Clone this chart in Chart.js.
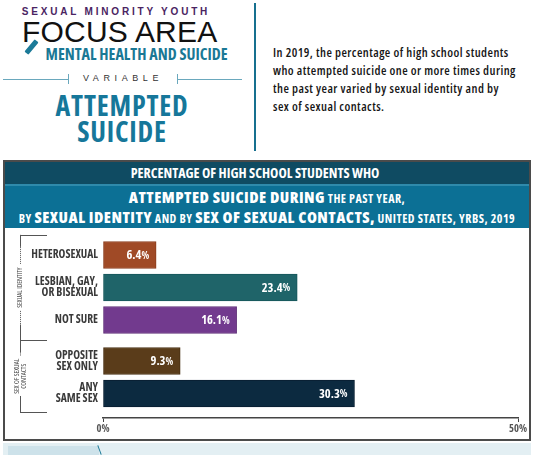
<!DOCTYPE html>
<html>
<head>
<meta charset="utf-8">
<script src="https://cdn.jsdelivr.net/npm/chart.js@4.4.0/dist/chart.umd.min.js"></script>
<style>
    body { margin: 0; width: 536px; height: 455px; position: relative; overflow: hidden; background: #fff;
           font-family: "Open Sans", sans-serif; font-stretch: 75%; }
    .abs { position: absolute; white-space: nowrap; }
    #kicker { left: 0; width: 232px; top: 7px; text-align: center; font: bold 10px/1 "Liberation Sans", Arial, sans-serif;
              letter-spacing: 2.8px; color: #4a2462; }
    #focus { left: 22px; top: 17px; font: 30px/1 "Liberation Sans", Arial, sans-serif; color: #111; letter-spacing: 0.2px; }
    #handle { left: 29px; top: 39px; width: 5px; height: 16px; background: #1b7a98; transform: rotate(40deg); border-radius: 1px; }
    #mh { left: 0; width: 273px; top: 46px; text-align: center; font-weight: bold; font-size: 16px; line-height: 1.1; color: #1a7895; }
    .vline { height: 1px; background: #6aa8bd; top: 79px; }
    #variable { left: 68px; width: 108px; top: 74px; font: 9px/1 "Liberation Sans", Arial, sans-serif; letter-spacing: 4.6px;
                color: #333; text-align: center; border-left: 1px solid #6aa8bd; border-right: 1px solid #6aa8bd; height: 10px; }
    #title { left: 0; width: 244px; top: 92px; text-align: center; font-weight: bold; font-size: 28px; letter-spacing: 0.8px;
             line-height: 26px; color: #16779a; }
    #sep { left: 254px; top: 3px; width: 2px; height: 148px; background: #16708f; }
    #intro { left: 273px; top: 44px; font-size: 12.5px; letter-spacing: 0.45px; font-weight: 600; line-height: 18px; color: #161616; }
    #box { left: 3px; top: 160px; width: 528px; height: 281px; border: 2px solid #4b4b4b; box-sizing: border-box; }
    #band1 { left: 5px; top: 162px; width: 500px; padding-right: 24px; height: 22px; background: #0f4b62; color: #fff; text-align: center;
             font-weight: bold; font-size: 14px; line-height: 22px; }
    #band2 { left: 5px; top: 184px; width: 524px; height: 44px; background: #0c7095; border-top: 2px solid #2f8aab;
             box-sizing: border-box; color: #fff; text-align: center; font-weight: bold; font-size: 12px; letter-spacing: 0.5px;
             line-height: 19px; padding-top: 2px; }
    #band2 b { font-size: 16px; }
    #strip { left: 3px; top: 443px; width: 528px; height: 12px; background: #e3eff3; }
    #strip2 { left: 8px; top: 446px; width: 91px; height: 9px; background: #cde2ea; }
    #diag { left: 99px; top: 445px; width: 1px; height: 10px; background: #1b7a98; transform: rotate(-20deg); }
    #chartWrap { left: 0; top: 228px; width: 536px; height: 212px; }
</style>
</head>
<body>
<div class="abs" id="kicker">SEXUAL MINORITY YOUTH</div>
<div class="abs" id="focus">FOCUS AREA</div>
<div class="abs" id="handle"></div>
<div class="abs" id="mh">MENTAL HEALTH AND SUICIDE</div>
<div class="abs vline" style="left:3px;width:65px"></div>
<div class="abs" id="variable">VARIABLE</div>
<div class="abs vline" style="left:177px;width:65px"></div>
<div class="abs" id="title">ATTEMPTED<br>SUICIDE</div>
<div class="abs" id="sep"></div>
<div class="abs" id="intro">In 2019, the percentage of high school students<br>who attempted suicide one or more times during<br>the past year varied by sexual identity and by<br>sex of sexual contacts.</div>

<div class="abs" id="box"></div>
<div class="abs" id="band1">PERCENTAGE OF HIGH SCHOOL STUDENTS WHO</div>
<div class="abs" id="band2"><b>ATTEMPTED SUICIDE DURING</b> THE PAST YEAR,<br>BY <b>SEXUAL IDENTITY</b> AND BY <b>SEX OF SEXUAL CONTACTS,</b> UNITED STATES, YRBS, 2019</div>
<div class="abs" id="strip"></div>
<div class="abs" id="strip2"></div>
<div class="abs" id="diag"></div>

<div class="abs" id="chartWrap"><canvas id="attemptChart"></canvas></div>

<script>
    // Data
    const categories = [['HETEROSEXUAL'], ['LESBIAN, GAY,', 'OR BISEXUAL'], ['NOT SURE'], ['OPPOSITE', 'SEX ONLY'], ['ANY', 'SAME SEX']];
    const percentages = [6.4, 23.4, 16.1, 9.3, 30.3];
    const groupOf = [0, 0, 0, 1, 1];
    const groupNames = [['SEXUAL IDENTITY'], ['SEX OF SEXUAL', 'CONTACTS']];
    const xTickValues = [0, 50];

    const barColors = ['#a04a26', '#1f6469', '#723a8e', '#5a3c1a', '#0c2a40'];
    const barBorders = ['#8a3d1d', '#17575b', '#5f2e78', '#4a3114', '#081e30'];
    const FAMILY = '"Open Sans", sans-serif';

    // row position: index plus an extra gap between the two groups
    const GROUP_GAP = 0.26;
    const rowPos = categories.map((c, i) => i + groupOf[i] * GROUP_GAP);

    const valueLabels = {
        id: 'valueLabels',
        afterDatasetsDraw(chart) {
            const ctx = chart.ctx;
            const meta = chart.getDatasetMeta(0);
            ctx.save();
            ctx.fillStyle = '#fff';
            ctx.textBaseline = 'middle';
            ctx.textAlign = 'right';
            meta.data.forEach((bar, i) => {
                const num = percentages[i].toFixed(1);
                ctx.font = 'bold condensed 10px ' + FAMILY;
                const pw = ctx.measureText('%').width;
                ctx.fillText('%', bar.x - 7, bar.y + 1);
                ctx.font = 'bold condensed 12.5px ' + FAMILY;
                ctx.fillText(num, bar.x - 7 - pw, bar.y + 0.5);
            });
            ctx.restore();
        }
    };

    const groupBrackets = {
        id: 'groupBrackets',
        afterDraw(chart) {
            const ctx = chart.ctx;
            const ys = chart.scales.y;
            const first = rowPos.slice(0, 3), second = rowPos.slice(3);
            const edges = [
                ys.getPixelForValue(first[0] - 0.62),
                ys.getPixelForValue((first[2] + second[0]) / 2),
                ys.getPixelForValue(second[1] + 0.57)
            ];
            const xl = 20, xr = 47;
            ctx.save();
            ctx.strokeStyle = '#555';
            ctx.lineWidth = 1;
            edges.forEach(y => {
                ctx.beginPath();
                ctx.moveTo(xl, Math.round(y) + 0.5);
                ctx.lineTo(xr, Math.round(y) + 0.5);
                ctx.stroke();
            });
            ctx.font = 'condensed 7px ' + FAMILY;
            ctx.fillStyle = '#444';
            ctx.textAlign = 'center';
            ctx.textBaseline = 'middle';
            groupNames.forEach((lines, g) => {
                const a = edges[g], b = edges[g + 1];
                const c = (a + b) / 2;
                const w = Math.max(...lines.map(l => ctx.measureText(l).width));
                const h = w / 2 + 3;
                const seg = (y1, y2, dash) => {
                    ctx.setLineDash(dash);
                    ctx.beginPath();
                    ctx.moveTo(xl + 0.5, y1);
                    ctx.lineTo(xl + 0.5, y2);
                    ctx.stroke();
                };
                seg(a, a + 12, []);
                seg(a + 12, c - h, [1, 1]);
                seg(c + h, b - 16, [1, 1]);
                seg(b - 16, b, []);
                ctx.setLineDash([]);
                ctx.save();
                ctx.translate(xl, c);
                ctx.rotate(-Math.PI / 2);
                const off = (lines.length - 1) * 3.5;
                lines.forEach((l, k) => ctx.fillText(l, 0, k * 7 - off));
                ctx.restore();
            });
            ctx.restore();
        }
    };

    new Chart(document.getElementById('attemptChart'), {
        type: 'bar',
        data: {
            datasets: [{
                data: percentages.map((v, i) => ({ x: v, y: rowPos[i] })),
                backgroundColor: barColors,
                borderColor: barBorders,
                borderWidth: 1,
                borderSkipped: false,
                barThickness: 27
            }]
        },
        options: {
            indexAxis: 'y',
            responsive: true,
            maintainAspectRatio: false,
            animation: false,
            layout: { padding: { left: 0, right: 18, top: 0, bottom: 0 } },
            plugins: { legend: { display: false }, tooltip: { enabled: false } },
            scales: {
                y: {
                    type: 'linear',
                    reverse: true,
                    offset: false,
                    min: -0.831,
                    max: 5.015,
                    afterFit(scale) {
                        scale.width = 103;
                        scale.paddingTop = 0;
                        scale.paddingBottom = 0;
                    },
                    afterBuildTicks(scale) { scale.ticks = rowPos.map(v => ({ value: v })); },
                    grid: { display: false, drawTicks: false, offset: false },
                    border: { display: false },
                    ticks: {
                        autoSkip: false,
                        padding: 5,
                        color: '#3a3a3a',
                        font: { family: FAMILY, size: 11.5, weight: 'bold condensed', lineHeight: 0.95 },
                        callback: (v, i) => categories[i]
                    }
                },
                x: {
                    min: 0,
                    max: 50,
                    afterFit(scale) {
                        scale.height = 22;
                        scale.paddingLeft = 0;
                        scale.paddingRight = 0;
                    },
                    afterBuildTicks(scale) { scale.ticks = xTickValues.map(v => ({ value: v })); },
                    grid: { display: true, drawOnChartArea: false, drawTicks: true, tickLength: 4, color: '#444', lineWidth: 1 },
                    border: { display: true, color: '#444', width: 1.5 },
                    ticks: {
                        padding: 1,
                        color: '#555',
                        font: { family: FAMILY, size: 10.5, weight: 'bold condensed' },
                        callback: v => v + '%'
                    }
                }
            }
        },
        plugins: [valueLabels, groupBrackets]
    });
</script>
</body>
</html>
